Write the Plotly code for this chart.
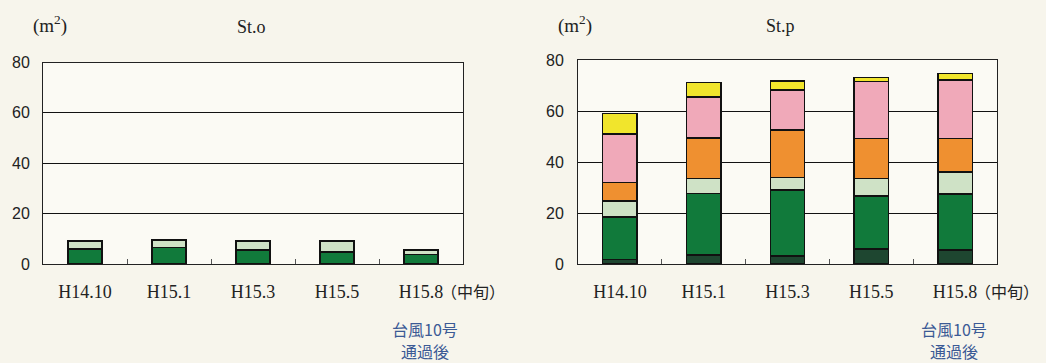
import plotly.graph_objects as go

categories = ["H14.10", "H15.1", "H15.3", "H15.5", "H15.8"]
last_suffix = "（中旬）"

# St.o (left) stacked values, m2
st_o_green = [6.0, 6.6, 5.6, 4.8, 3.7]
st_o_lightgreen = [3.1, 2.9, 3.5, 4.3, 1.9]

# St.p (right) stacked values, m2 (bottom to top)
st_p_darkgreen = [1.8, 3.5, 3.1, 5.9, 5.5]
st_p_green = [16.7, 24.2, 25.9, 20.8, 22.0]
st_p_lightgreen = [6.3, 5.9, 5.0, 6.8, 8.5]
st_p_orange = [7.1, 15.9, 18.5, 15.8, 13.3]
st_p_pink = [19.0, 15.9, 15.7, 22.2, 22.9]
st_p_yellow = [8.2, 5.8, 3.6, 1.7, 2.6]

y_ticks = [0, 20, 40, 60, 80]

C_DG = "#1e4630"
C_G = "#117a3b"
C_LG = "#cfe2c6"
C_OR = "#ef9030"
C_PK = "#f0a9b9"
C_YE = "#f1e52c"

PAPER = "#f7f5ec"
SERIF = "Liberation Serif, Noto Sans CJK JP, serif"
CJK = "Noto Sans CJK JP, sans-serif"

fig = go.Figure()

def add(vals, color, xa, ya):
    fig.add_trace(go.Bar(
        x=categories, y=vals, xaxis=xa, yaxis=ya,
        marker=dict(color=color, line=dict(color="#111111", width=1.5)),
        width=0.41, showlegend=False, hoverinfo="skip"))

add(st_o_green, C_G, "x", "y")
add(st_o_lightgreen, C_LG, "x", "y")

for vals, col in [(st_p_darkgreen, C_DG), (st_p_green, C_G), (st_p_lightgreen, C_LG),
                  (st_p_orange, C_OR), (st_p_pink, C_PK), (st_p_yellow, C_YE)]:
    add(vals, col, "x2", "y2")

xcommon = dict(type="category", range=[-0.5, 4.5], autorange=False,
               showline=True, linecolor="#222", linewidth=1, mirror=True,
               ticks="inside", tickson="boundaries", ticklen=5, tickcolor="#555",
               tickfont=dict(family=SERIF, size=18, color="#222"), showgrid=False,
               zeroline=False, ticklabelstandoff=11, tickangle=0, automargin=False)
ycommon = dict(range=[0, 80], tickvals=y_ticks, showline=True, linecolor="#222", linewidth=1,
               mirror=True, showgrid=True, gridcolor="#111", gridwidth=1, ticks="",
               tickfont=dict(family="Liberation Sans, Arial, sans-serif", size=16, color="#222"),
               zeroline=False, automargin=False)

fig.update_layout(
    width=1046, height=363,
    margin=dict(l=0, r=0, t=0, b=0),
    paper_bgcolor=PAPER, plot_bgcolor="#fbfaf4",
    barmode="stack", bargap=0.59,
    xaxis=dict(domain=[43/1046, 463/1046], anchor="y", **xcommon),
    yaxis=dict(domain=[1-264/363, 1-62.5/363], anchor="x", ticklabelstandoff=9, **ycommon),
    xaxis2=dict(domain=[578/1046, 997/1046], anchor="y2", **xcommon),
    yaxis2=dict(domain=[1-264/363, 1-60/363], anchor="x2", ticklabelstandoff=10, **ycommon),
)

anns = [
    dict(x=251/1046, y=1-27/363, text="St.o", size=18),
    dict(x=780/1046, y=1-26/363, text="St.p", size=18),
    dict(x=50/1046, y=1-24/363, text="(m<sup>2</sup>)", size=19),
    dict(x=575/1046, y=1-24/363, text="(m<sup>2</sup>)", size=19),
]
for a in anns:
    fig.add_annotation(xref="paper", yref="paper", showarrow=False, x=a["x"], y=a["y"],
                       xanchor="center", yanchor="middle",
                       text=a["text"], font=dict(family=SERIF, size=a["size"], color="#222"))

# "（中旬）" suffix next to the last category label
for xr in ["x", "x2"]:
    fig.add_annotation(xref=xr, yref="paper", x=categories[-1], y=1-291/363,
                       xanchor="left", yanchor="middle", xshift=18, showarrow=False,
                       text=last_suffix, font=dict(family=CJK, size=16, color="#222"))

for cx in [425/1046, 954/1046]:
    fig.add_annotation(xref="paper", yref="paper", x=cx, y=1-329/363, showarrow=False,
                       xanchor="center", yanchor="middle",
                       text="台風10号", font=dict(family=CJK, size=16, color="#3b5a95"))
    fig.add_annotation(xref="paper", yref="paper", x=cx, y=1-351/363, showarrow=False,
                       xanchor="center", yanchor="middle",
                       text="通過後", font=dict(family=CJK, size=16, color="#3b5a95"))

fig.write_html("out.html", config={"displayModeBar": False},
               post_script="document.body.style.margin='0';document.body.style.overflow='hidden';")
